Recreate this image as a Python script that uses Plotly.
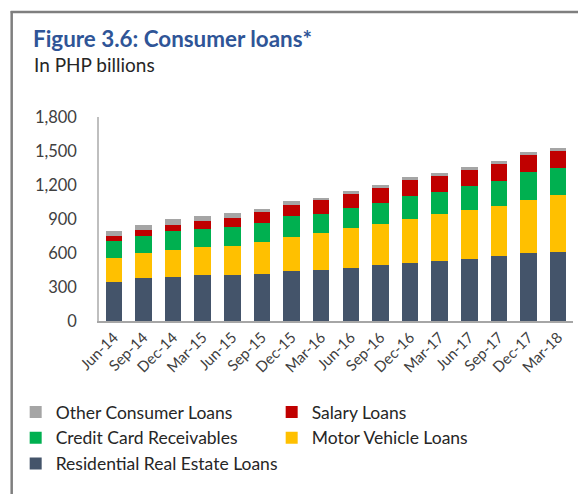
import plotly.graph_objects as go

# Quarter-end labels
quarters = ["Jun-14", "Sep-14", "Dec-14", "Mar-15", "Jun-15", "Sep-15", "Dec-15", "Mar-16",
            "Jun-16", "Sep-16", "Dec-16", "Mar-17", "Jun-17", "Sep-17", "Dec-17", "Mar-18"]

# Outstanding loans by type, PHP billions
residential = [343, 376, 390, 405, 405, 416, 437, 449, 469, 490, 513, 526, 546, 570, 596, 610]
motor_vehicle = [209, 220, 235, 249, 261, 285, 305, 326, 348, 366, 391, 414, 431, 443, 475, 502]
credit_card = [158, 158, 167, 158, 164, 167, 182, 173, 180, 185, 199, 194, 211, 220, 240, 241]
salary = [44, 47, 59, 74, 83, 97, 103, 117, 122, 132, 138, 146, 143, 150, 150, 146]
other = [44, 44, 49, 44, 44, 26, 35, 24, 27, 26, 29, 30, 26, 26, 26, 30]

y_ticks = [0, 300, 600, 900, 1200, 1500, 1800]

W, H = 578, 494
ML, MR, MT, MB = 98.5, 4.5, 117, 173
PW, PH = W - ML - MR, H - MT - MB
FONT = "Lato"


def px_x(px):
    return (px - ML) / PW


def px_y(py):
    return (H - MB - py) / PH


series = [
    ("Residential Real Estate Loans", residential, "#44546A", 5),
    ("Motor Vehicle Loans", motor_vehicle, "#FFC000", 4),
    ("Credit Card Receivables", credit_card, "#00B050", 3),
    ("Salary Loans", salary, "#C00000", 2),
    ("Other Consumer Loans", other, "#A5A5A5", 1),
]

fig = go.Figure()
for name, vals, color, rank in series:
    fig.add_trace(go.Bar(
        x=quarters, y=vals, name=name, legendrank=rank,
        marker=dict(color=color, line=dict(width=0)),
    ))

fig.update_layout(
    width=W, height=H,
    barmode="stack", bargap=0.444,
    paper_bgcolor="white", plot_bgcolor="white",
    margin=dict(l=ML, r=MR, t=MT, b=MB, autoexpand=False),
    font=dict(family=FONT, color="#404040"),
    title=dict(
        text="<b>Figure 3.6: Consumer loans*</b>",
        x=33 / W, xanchor="left", xref="container",
        y=1 - 39 / H, yanchor="middle", yref="container",
        font=dict(family=FONT, size=22.4, color="#2F5597"),
    ),
    showlegend=True,
    legend=dict(
        orientation="h", traceorder="normal",
        x=px_x(15), xanchor="left", y=px_y(394), yanchor="top",
        entrywidth=211, entrywidthmode="pixels",
        font=dict(family=FONT, size=17.5, color="#262626"),
        itemwidth=30, tracegroupgap=0,
        bgcolor="rgba(0,0,0,0)",
    ),
    xaxis=dict(
        type="category", tickangle=-45, showgrid=False,
        showline=True, linecolor="#A6A6A6", linewidth=1.5,
        ticks="", tickfont=dict(family=FONT, size=15, color="#404040"),
    ),
    yaxis=dict(
        range=[0, 1800], tickvals=y_ticks, tickformat=",d",
        showgrid=False, zeroline=False,
        showline=True, linecolor="#BFBFBF", linewidth=1.5,
        ticks="", ticklabelstandoff=17,
        tickfont=dict(family=FONT, size=16.5, color="#404040"),
    ),
    annotations=[
        dict(text="In PHP billions", xref="paper", yref="paper",
             x=px_x(31), y=px_y(64), xanchor="left", yanchor="middle",
             showarrow=False, font=dict(family=FONT, size=19, color="#262626")),
    ],
    shapes=[
        dict(type="line", xref="paper", yref="paper",
             x0=px_x(10), x1=px_x(W + 2), y0=px_y(12), y1=px_y(12),
             line=dict(color="#7F7F7F", width=2.5)),
        dict(type="line", xref="paper", yref="paper",
             x0=px_x(11), x1=px_x(11), y0=px_y(11), y1=px_y(H + 2),
             line=dict(color="#7F7F7F", width=2.5)),
    ],
)

fig.write_html("out.html")
